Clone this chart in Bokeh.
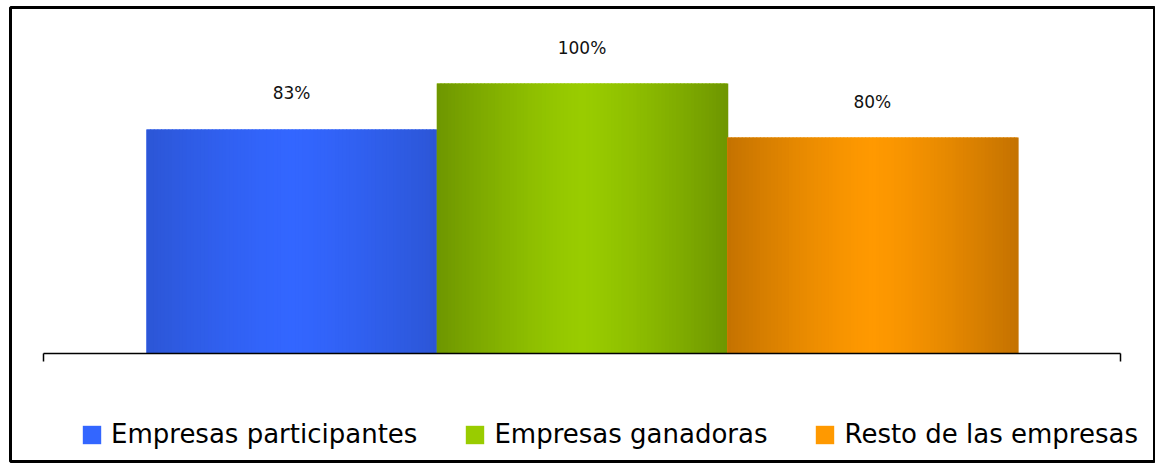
from bokeh.plotting import figure
from bokeh.models import Range1d, ColumnDataSource, LabelSet, Legend, LegendItem
from bokeh.core.properties import value
from bokeh.embed import file_html
from bokeh.resources import INLINE

# ---- data ----
series = ["Empresas participantes", "Empresas ganadoras", "Resto de las empresas"]
values = [83, 100, 80]
labels = ["83%", "100%", "80%"]
center_colors = ["#3366FF", "#99CC00", "#FF9900"]
edge_colors = ["#2C56D6", "#6E9600", "#C47200"]

FONT = "DejaVu Sans"

W, H = 1155, 463
BL, BT, BR, BB = 10, 7, 0, 2
FW, FH = W - BL - BR, H - BT - BB
x_px0, x_px1 = 33, 1110          # frame px of category start/end
y_base, y_top = 346, 76          # frame px (from top) of 0 and 100
xs = (x_px1 - x_px0)
ys = (y_base - y_top) / 100.0

p = figure(width=W, height=H, output_backend="svg", toolbar_location=None,
           x_range=Range1d(-x_px0 / xs, (FW - x_px0) / xs),
           y_range=Range1d(-(FH - y_base) / ys, y_base / ys),
           min_border=0, min_border_left=BL, min_border_right=BR,
           min_border_top=BT, min_border_bottom=BB)
p.axis.visible = False
p.grid.visible = False
p.outline_line_color = "black"
p.outline_line_width = 3
p.background_fill_color = "white"
p.border_fill_color = "white"

gap = 0.0956
bw = (1 - 2 * gap) / 3
centers = [gap + bw * (i + 0.5) for i in range(3)]


def hex2rgb(h):
    h = h.lstrip("#")
    return tuple(int(h[i:i + 2], 16) for i in (0, 2, 4))


def mix(c1, c2, t):
    a, b = hex2rgb(c1), hex2rgb(c2)
    return "#%02x%02x%02x" % tuple(round(a[k] + (b[k] - a[k]) * t) for k in range(3))


legend_items = []
N = 80
for i, (name, v) in enumerate(zip(series, values)):
    x0 = centers[i] - bw / 2
    r = p.vbar(x=[centers[i]], top=[v], bottom=0, width=bw,
               fill_color=center_colors[i], line_color=None)
    lefts, rights, cols = [], [], []
    for k in range(N):
        a = x0 + bw * k / N
        b = x0 + bw * (k + 1) / N
        pos = (k + 0.5) / N
        d = min(1.0, abs(pos - 0.5) / 0.5)
        t = d ** 1.3
        lefts.append(a)
        rights.append(b + bw / N * 0.3)
        cols.append(mix(center_colors[i], edge_colors[i], t))
    p.quad(left=lefts, right=rights, bottom=0, top=[v] * N,
           fill_color=cols, line_color=None)
    legend_items.append(LegendItem(label=name, renderers=[r]))

# value labels
src = ColumnDataSource(dict(x=centers, y=values, t=labels))
p.add_layout(LabelSet(x="x", y="y", text="t", source=src, text_align="center",
                      text_baseline="middle", y_offset=36,
                      text_font=value(FONT), text_font_size="17px",
                      text_color="#111111"))

# category axis line with end ticks
tick = 8 / ys
p.segment(x0=[0], y0=[0], x1=[1], y1=[0], line_color="black", line_width=1.5)
p.segment(x0=[0, 1], y0=[0, 0], x1=[0, 1], y1=[-tick, -tick],
          line_color="black", line_width=1.5)

legend = Legend(items=legend_items, orientation="horizontal",
                location=(70, 12), padding=0, margin=0, spacing=46,
                label_standoff=8, glyph_width=23, glyph_height=23,
                label_text_font=FONT, label_text_font_size="26px",
                label_text_color="#000000",
                border_line_color=None, background_fill_alpha=0)
p.add_layout(legend)

open("out.html", "w").write(file_html(p, INLINE))
